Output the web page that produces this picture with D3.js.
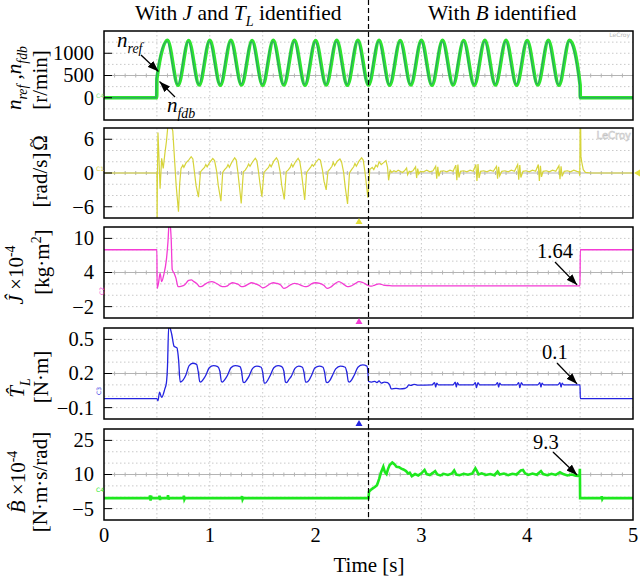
<!DOCTYPE html>
<html><head><meta charset="utf-8">
<script src="https://cdn.jsdelivr.net/npm/d3@7"></script>
<style>
html,body{margin:0;padding:0;background:#fff;}
svg text{font-family:"Liberation Serif","Times New Roman",serif;}
svg text.tag{font-family:"DejaVu Sans",sans-serif;}
</style></head><body>
<svg id="chart" width="641" height="582"></svg>
<script>
// ---------- data ----------
const timeTicks = [0, 1, 2, 3, 4, 5];
const timeTickText = ["0", "1", "2", "3", "4", "5"];

const speedTicks = [0, 500, 1000];
const speedTickText = ["0", "500", "1000"];
const omegaTicks = [-6, 0, 6];
const omegaTickText = ["\u22126", "0", "6"];
const inertiaTicks = [-2, 4, 10];
const inertiaTickText = ["\u22122", "4", "10"];
const torqueTicks = [-0.1, 0.2, 0.5];
const torqueTickText = ["\u22120.1", "0.2", "0.5"];
const frictionTicks = [-5, 10, 25];
const frictionTickText = ["\u22125", "10", "25"];

// speed extremes (r/min)
const speedTime = [0, 0.498, 0.5,
  0.6, 0.7, 0.8, 0.9, 1.0, 1.1, 1.2, 1.3, 1.4, 1.5, 1.6, 1.7, 1.8, 1.9, 2.0, 2.1, 2.2, 2.3, 2.4, 2.5,
  2.6, 2.7, 2.8, 2.9, 3.0, 3.1, 3.2, 3.3, 3.4, 3.5, 3.6, 3.7, 3.8, 3.9, 4.0, 4.1, 4.2, 4.3, 4.4, 4.5,
  4.502, 5];
const nFdb = [0, 0, 430,
  1290, 280, 1285, 285, 1290, 280, 1290, 285, 1285, 280, 1290, 285, 1290, 280, 1285, 285, 1290, 280, 1290, 285,
  1290, 280, 1285, 285, 1290, 280, 1290, 285, 1285, 280, 1290, 285, 1290, 280, 1285, 285, 1290, 280, 1290, 285,
  0, 0];
const nRef = [0, 0, 440,
  1265, 300, 1260, 305, 1265, 300, 1265, 305, 1260, 300, 1265, 305, 1265, 300, 1260, 305, 1265, 300, 1265, 305,
  1265, 300, 1260, 305, 1265, 300, 1265, 305, 1260, 300, 1265, 305, 1265, 300, 1260, 305, 1265, 300, 1265, 305,
  0, 0];

// speed estimation error (rad/s)
const omegaErr = [
  [0,0],[0.5,0],[0.502,-8.6],[0.505,-0.5],[0.51,7.2],[0.517,4],[0.53,-2.8],[0.545,2.6],[0.56,0.8],[0.575,3.4],
  [0.59,5.6],[0.605,8.6],[0.63,8.6],[0.65,7.5],[0.682,-2.2],[0.704,-6.9],[0.715,-2],[0.728,0.8],[0.745,1.4],
  [0.755,1.0],[0.775,1.8],[0.8,2.3],[0.824,2.9],[0.84,2.5],[0.87,-2.2],[0.893,-4.3],[0.912,0.2],
  [0.93,0.6],[0.95,1.0],[0.962,1.5],[0.975,1.1],[1.0,1.9],[1.028,2.6],[1.045,2.2],[1.065,0.3],[1.08,-2.2],[1.105,-5.0],[1.122,0.1],
  [1.14,0.6],[1.16,1.0],[1.172,1.5],[1.185,1.0],[1.21,2.0],[1.235,2.7],[1.25,2.3],[1.265,0.2],[1.28,-2.4],[1.297,-5.4],[1.317,0.2],
  [1.335,0.5],[1.355,1.1],[1.367,1.6],[1.38,1.2],[1.405,2.0],[1.43,2.6],[1.445,2.2],[1.46,0.3],[1.475,-2.0],[1.492,-4.2],[1.512,0.1],
  [1.535,0.6],[1.555,1.0],[1.567,1.5],[1.58,1.1],[1.605,2.1],[1.63,2.7],[1.645,2.2],[1.665,0.2],[1.68,-2.2],[1.704,-4.7],[1.722,0.2],
  [1.74,0.5],[1.76,1.0],[1.772,1.6],[1.785,1.1],[1.81,2.0],[1.835,2.6],[1.85,2.1],[1.865,0.3],[1.88,-2.1],[1.897,-4.8],[1.915,0.1],
  [1.935,0.6],[1.955,1.1],[1.967,1.5],[1.98,1.2],[2.005,2.0],[2.03,2.5],[2.045,2.3],[2.065,0.5],[2.08,-1.5],[2.1,-3.0],[2.117,0.3],
  [2.135,0.7],[2.155,1.2],[2.167,1.9],[2.18,1.3],[2.205,2.1],[2.23,2.5],[2.245,2.0],[2.265,0.1],[2.28,-2.5],[2.302,-5.5],[2.32,0.0],
  [2.34,0.6],[2.36,1.1],[2.372,1.7],[2.385,1.2],[2.41,2.1],[2.435,2.7],[2.45,2.3],[2.465,0.4],[2.48,-2.0],[2.494,-4.4],[2.512,0.6],
  [2.535,1.0],[2.55,0.6],[2.57,1.4],[2.585,1.1],[2.6,2.0],[2.62,1.5],[2.64,1.8],[2.665,2.2],[2.68,1.0],[2.69,-1.3],[2.705,0.5],
  [2.72,0.1],[2.74,0.4],[2.76,0.2],[2.78,0.5],[2.8,0.3],[2.82,0.1],[2.84,0.4],[2.86,0.9],[2.87,-0.3],[2.885,0.3],[2.9,0.2],
  [2.92,0.4],[2.945,1.1],[2.955,-0.9],[2.965,0.8],[2.975,-0.2],[2.99,0.3],[3.02,0.2],[3.05,0.5],[3.08,0.2],[3.11,0.4],
  [3.135,1.2],[3.145,-1.0],[3.155,1.1],[3.165,-0.6],[3.18,0.3],[3.21,0.4],[3.24,0.2],[3.27,0.5],[3.3,0.3],
  [3.325,1.4],[3.335,-1.3],[3.345,1.5],[3.355,-0.8],[3.37,0.3],[3.4,0.4],[3.43,0.2],[3.46,0.5],[3.49,0.3],
  [3.515,1.5],[3.525,-1.4],[3.535,1.6],[3.545,-0.9],[3.56,0.3],[3.59,0.4],[3.62,0.2],[3.65,0.5],[3.68,0.3],
  [3.71,1.2],[3.72,-1.0],[3.73,1.1],[3.74,-0.5],[3.76,0.3],[3.79,0.4],[3.82,0.2],[3.85,0.5],[3.88,0.3],
  [3.91,1.5],[3.92,-1.2],[3.93,1.4],[3.94,-0.8],[3.96,0.3],[3.99,0.4],[4.02,0.2],[4.05,0.5],[4.08,0.3],
  [4.105,1.5],[4.115,-1.4],[4.125,1.3],[4.135,-0.7],[4.15,0.3],[4.18,0.4],[4.21,0.2],[4.24,0.5],[4.27,0.3],
  [4.3,1.3],[4.31,-1.1],[4.32,1.2],[4.33,-0.6],[4.35,0.3],[4.38,0.4],[4.41,0.2],[4.44,0.5],[4.47,0.3],
  [4.49,0.2],[4.497,-0.5],[4.5,8.6],[4.505,8.6],[4.508,3],[4.515,2],[4.53,0.6],[4.55,0.1],[4.6,0],[5,0]
];

// estimated inertia (x1e-4 kg·m²)
const inertiaEst = [
  [0,8],[0.5,8],[0.502,1.2],[0.515,2.1],[0.53,3.9],[0.545,2.4],[0.565,3.6],[0.59,6.3],[0.605,9.5],[0.615,12.5],
  [0.625,12.3],[0.635,9.9],[0.645,4.5],[0.665,3.8],[0.68,3.0],[0.7,1.5],[0.735,1.6],[0.76,1.8],[0.8,2.6],[0.825,2.7],
  [0.85,2.4],[0.88,2.0],[0.905,1.5],[0.93,1.6],[0.96,2.0],[0.99,2.3],[1.02,2.4],[1.05,2.2],[1.08,1.9],[1.105,1.6],
  [1.13,1.5],[1.16,1.6],[1.19,2.0],[1.215,2.2],[1.24,2.1],[1.27,1.9],[1.3,1.5],[1.33,1.6],[1.36,1.9],[1.395,2.2],
  [1.43,2.0],[1.47,1.7],[1.5,1.3],[1.53,1.5],[1.56,1.9],[1.6,2.2],[1.63,2.1],[1.67,1.8],[1.7,1.2],[1.73,1.4],
  [1.76,1.8],[1.8,2.1],[1.83,2.0],[1.87,1.7],[1.9,1.5],[1.93,1.6],[1.96,2.0],[2.0,2.2],[2.04,2.1],[2.08,1.7],
  [2.11,1.2],[2.14,1.4],[2.18,2.0],[2.22,2.4],[2.26,2.0],[2.3,1.5],[2.33,1.6],[2.37,2.0],[2.41,2.4],[2.45,2.2],
  [2.5,1.7],[2.53,1.6],[2.56,1.8],[2.6,2.0],[2.64,1.8],[2.69,1.7],[2.74,1.64],[4.499,1.64],[4.502,8],[5,8]
];

// estimated load torque (N·m)
const torqueEst = [
  [0,-0.02],[0.5,-0.02],[0.51,-0.04],[0.525,0.035],[0.545,-0.01],[0.575,0.065],[0.59,0.12],[0.6,0.26],[0.612,0.62],
  [0.625,0.6],[0.64,0.545],[0.662,0.44],[0.69,0.425],[0.705,0.32],[0.72,0.125],
  [0.745,0.14],[0.775,0.19],[0.805,0.27],[0.84,0.29],[0.875,0.28],[0.89,0.22],[0.905,0.13],
  [0.915,0.125],[0.94,0.15],[0.96,0.18],[0.995,0.25],[1.035,0.27],[1.075,0.26],[1.095,0.22],[1.11,0.13],
  [1.12,0.125],[1.145,0.15],[1.165,0.18],[1.2,0.25],[1.24,0.27],[1.285,0.26],[1.3,0.22],[1.315,0.125],
  [1.325,0.12],[1.35,0.145],[1.37,0.175],[1.405,0.245],[1.445,0.265],[1.485,0.255],[1.5,0.21],[1.515,0.115],
  [1.525,0.115],[1.55,0.145],[1.57,0.18],[1.605,0.25],[1.645,0.27],[1.68,0.26],[1.7,0.22],[1.715,0.125],
  [1.725,0.12],[1.75,0.15],[1.77,0.175],[1.805,0.245],[1.84,0.265],[1.875,0.255],[1.89,0.21],[1.905,0.125],
  [1.915,0.125],[1.94,0.145],[1.96,0.18],[1.995,0.25],[2.035,0.265],[2.07,0.255],[2.085,0.21],[2.1,0.125],
  [2.11,0.12],[2.135,0.14],[2.155,0.175],[2.19,0.24],[2.235,0.265],[2.28,0.255],[2.295,0.21],[2.31,0.13],
  [2.32,0.125],[2.345,0.15],[2.365,0.185],[2.4,0.255],[2.445,0.275],[2.485,0.265],[2.495,0.2],[2.5,0.13],
  [2.53,0.125],[2.56,0.13],[2.58,0.12],[2.6,0.135],[2.62,0.115],[2.65,0.125],[2.68,0.12],[2.7,0.1],
  [2.715,0.065],[2.76,0.07],[2.8,0.065],[2.84,0.068],[2.865,0.08],[2.88,0.1],[2.9,0.095],[2.93,0.105],
  [2.96,0.098],[3.1,0.1],[3.125,0.12],[3.135,0.08],[3.145,0.115],[3.16,0.1],[3.3,0.1],[3.32,0.125],
  [3.33,0.08],[3.34,0.12],[3.355,0.1],[3.49,0.1],[3.51,0.12],[3.52,0.075],[3.535,0.12],[3.55,0.1],
  [3.7,0.1],[3.72,0.12],[3.73,0.08],[3.74,0.115],[3.755,0.1],[3.9,0.1],[3.92,0.12],[3.93,0.075],
  [3.945,0.12],[3.96,0.1],[4.1,0.1],[4.12,0.12],[4.13,0.08],[4.14,0.115],[4.155,0.1],[4.29,0.1],
  [4.31,0.12],[4.32,0.08],[4.33,0.115],[4.345,0.1],[4.499,0.1],[4.502,-0.02],[5,-0.02]
];

// estimated friction coefficient (x1e-4 N·m·s/rad)
const frictionEst = [
  [0,-0.4],[0.43,-0.4],[0.435,0.8],[0.44,-1.5],[0.445,0.6],[0.45,-0.4],[0.52,-0.4],[0.525,0.7],[0.53,-1.2],
  [0.535,-0.4],[0.6,-0.4],[0.605,0.9],[0.61,-1],[0.615,-0.4],[0.75,-0.4],[0.755,0.7],[0.76,-0.9],[0.765,-0.4],
  [1.3,-0.4],[1.305,0.5],[1.31,-0.9],[1.315,-0.4],[2.5,-0.4],
  [2.505,2.5],[2.52,3.2],[2.54,3.9],[2.56,4.5],[2.58,5.3],[2.6,8],[2.62,11.1],[2.64,13.4],[2.655,11],[2.67,10.2],
  [2.685,12.5],[2.7,14.2],[2.725,15.3],[2.745,14.5],[2.765,13.4],[2.79,13.2],[2.81,12.6],[2.83,12.2],[2.855,11.5],
  [2.875,10.4],[2.89,10.8],[2.91,9.3],[2.94,10.2],[2.97,9.6],[3.0,10.5],[3.03,12],[3.05,10.2],[3.08,9.8],[3.11,10.8],
  [3.13,11.5],[3.15,10],[3.18,9.6],[3.21,10.3],[3.25,9.8],[3.29,10.5],[3.31,11.8],[3.33,10],[3.36,9.7],[3.4,10.3],
  [3.44,9.9],[3.48,10.4],[3.51,12.7],[3.525,11.5],[3.54,10],[3.57,10.5],[3.61,9.8],[3.65,10.2],[3.69,9.7],[3.72,11.3],
  [3.74,10],[3.78,10.4],[3.82,9.7],[3.86,10.3],[3.9,10.0],[3.94,11.8],[3.96,12],[3.98,10.5],[4.01,9.8],[4.05,10.4],
  [4.09,9.9],[4.13,11.5],[4.15,10.2],[4.19,9.7],[4.23,10.3],[4.27,9.8],[4.31,11],[4.34,10.2],[4.38,9.6],[4.42,10],
  [4.46,9.5],[4.495,9.3],[4.498,12.5],[4.5,-0.4],[4.7,-0.4],[4.705,0.4],[4.71,-0.8],[4.715,-0.4],[5,-0.4]
];

// final identified values pointed out on the traces
const inertiaFinal = 1.64, torqueFinal = 0.1, frictionFinal = 9.3;

// ---------- drawing ----------
const svg = d3.select("#chart");
const X0 = 104, X1 = 633;
const x = d3.scaleLinear().domain([0, 5]).range([X0, X1]);
const FS = 21;      // titles, axis names, annotations
const FT = 20.5;    // tick labels

const defs = svg.append("defs");
defs.append("marker").attr("id", "ah").attr("viewBox", "0 0 11 8")
  .attr("refX", 11).attr("refY", 4).attr("markerWidth", 11).attr("markerHeight", 8)
  .attr("markerUnits", "userSpaceOnUse").attr("orient", "auto")
  .append("path").attr("d", "M0,0L11,4L0,8z").attr("fill", "#000");

const panels = [
  {top: 31, bottom: 120, domain: [-500, 1500], ticks: speedTicks, text: speedTickText},
  {top: 128, bottom: 218, domain: [-8, 8], ticks: omegaTicks, text: omegaTickText},
  {top: 227, bottom: 318, domain: [-4, 12], ticks: inertiaTicks, text: inertiaTickText},
  {top: 328, bottom: 419, domain: [-0.2, 0.6], ticks: torqueTicks, text: torqueTickText},
  {top: 429, bottom: 520, domain: [-10, 30], ticks: frictionTicks, text: frictionTickText}
];

panels.forEach((p, i) => {
  p.y = d3.scaleLinear().domain(p.domain).range([p.bottom, p.top]);
  defs.append("clipPath").attr("id", "clip" + i).append("rect")
    .attr("x", X0).attr("y", p.top).attr("width", X1 - X0).attr("height", p.bottom - p.top);
  const g = svg.append("g");
  p.g = g;
  // oscilloscope grid
  const step = (p.domain[1] - p.domain[0]) / 8;
  for (let k = 1; k < 8; k++) {
    const yy = p.y(p.domain[0] + k * step);
    g.append("line").attr("x1", X0).attr("x2", X1).attr("y1", yy).attr("y2", yy)
      .attr("stroke", k === 4 ? "#b4b4b4" : "#c9c9c9")
      .attr("stroke-width", 1)
      .attr("stroke-dasharray", k === 4 ? null : "1.5,2.5");
  }
  d3.range(1, 10).forEach(k => {
    const xx = x(k * 0.5);
    g.append("line").attr("x1", xx).attr("x2", xx).attr("y1", p.top).attr("y2", p.bottom)
      .attr("stroke", "#c9c9c9").attr("stroke-dasharray", "1.5,2.5");
  });
  // minor ticks on the centre line
  const yc = p.y(p.domain[0] + 4 * step);
  d3.range(1, 50).forEach(k => {
    const xx = x(k * 0.1);
    g.append("line").attr("x1", xx).attr("x2", xx).attr("y1", yc - 2).attr("y2", yc + 2)
      .attr("stroke", "#b4b4b4");
  });
});

const traceLayer = (i) => panels[i].g.append("g").attr("clip-path", `url(#clip${i})`);
const mkLine = (i, curve) => d3.line().x(d => x(d[0])).y(d => panels[i].y(d[1])).curve(curve || d3.curveLinear);

// panel 1: speeds
{
  const L = traceLayer(0);
  const fdb = speedTime.map((t, k) => [t, nFdb[k]]);
  const ref = speedTime.map((t, k) => [t - 0.006, nRef[k]]);
  L.append("path").datum(fdb).attr("d", mkLine(0, d3.curveMonotoneX))
    .attr("fill", "none").attr("stroke", "#2ee42e").attr("stroke-width", 3.6);
  L.append("path").datum(ref).attr("d", mkLine(0, d3.curveMonotoneX))
    .attr("fill", "none").attr("stroke", "#2b3bc0").attr("stroke-width", 0.9).attr("opacity", 0.5);
}
// panel 2
traceLayer(1).append("path").datum(omegaErr).attr("d", mkLine(1))
  .attr("fill", "none").attr("stroke", "#d6d43a").attr("stroke-width", 1.2);
// panel 3
traceLayer(2).append("path").datum(inertiaEst).attr("d", mkLine(2, d3.curveMonotoneX))
  .attr("fill", "none").attr("stroke", "#f43bd4").attr("stroke-width", 1.3);
// panel 4
traceLayer(3).append("path").datum(torqueEst).attr("d", mkLine(3, d3.curveMonotoneX))
  .attr("fill", "none").attr("stroke", "#2424e0").attr("stroke-width", 1.3);
// panel 5
traceLayer(4).append("path").datum(frictionEst).attr("d", mkLine(4))
  .attr("fill", "none").attr("stroke", "#1ee81e").attr("stroke-width", 2.6);

// frames, y ticks and tick labels
panels.forEach((p, i) => {
  p.g.append("rect").attr("x", X0).attr("y", p.top).attr("width", X1 - X0).attr("height", p.bottom - p.top)
    .attr("fill", "none").attr("stroke", "#000").attr("stroke-width", 1.5);
  p.ticks.forEach((v, k) => {
    const yy = p.y(v);
    p.g.append("line").attr("x1", X0).attr("x2", X0 + 8).attr("y1", yy).attr("y2", yy)
      .attr("stroke", "#000").attr("stroke-width", 1);
    p.g.append("text").attr("x", 94).attr("y", yy).attr("dy", "0.34em")
      .attr("text-anchor", "end").attr("font-size", FT).text(p.text[k]);
  });
});

// time axis labels
timeTicks.forEach((t, k) => {
  svg.append("text").attr("x", x(t)).attr("y", 542).attr("text-anchor", "middle")
    .attr("font-size", FT).text(timeTickText[k]);
});
svg.append("text").attr("x", 369).attr("y", 572).attr("text-anchor", "middle")
  .attr("font-size", FS).text("Time [s]");

// rich text helper (italic / sub / superscript)
function rich(sel, parts, size) {
  let shift = 0;
  parts.forEach(p => {
    const target = p.sub ? 0.3 * size : p.sup ? -0.38 * size : 0;
    const ts = sel.append("tspan").attr("dy", target - shift).text(p.t);
    if (p.i) ts.attr("font-style", "italic");
    if (p.sub || p.sup) ts.attr("font-size", size * 0.66);
    shift = target;
  });
  return sel;
}
function vlabel(xb, yc, parts, size) {
  const fs = size || FS;
  const t = svg.append("text").attr("transform", `translate(${xb},${yc}) rotate(-90)`)
    .attr("text-anchor", "middle").attr("font-size", fs);
  rich(t, parts, fs);
}

vlabel(21, 78, [{t: "n", i: 1}, {t: "ref", i: 1, sub: 1}, {t: " ,"}, {t: "n", i: 1}, {t: "fdb", i: 1, sub: 1}]);
vlabel(47, 80, [{t: "[r/min]"}]);
vlabel(47, 143, [{t: "\u03A9"}]);
vlabel(37, 143, [{t: "~"}], 16);
vlabel(47, 180, [{t: "[rad/s]"}]);
vlabel(23, 275, [{t: "\u0134", i: 1}, {t: " \u00D710"}, {t: "-4", sup: 1}]);
vlabel(49, 262, [{t: "[kg\u00B7m"}, {t: "2", sup: 1}, {t: "]"}]);
vlabel(24, 388, [{t: "T\u0302", i: 1}, {t: "L", i: 1, sub: 1}]);
vlabel(48, 377, [{t: "[N\u00B7m]"}]);
vlabel(25, 482, [{t: "B\u0302", i: 1}, {t: " \u00D710"}, {t: "-4", sup: 1}]);
vlabel(47, 482, [{t: "[N\u00B7m\u00B7s/rad]"}]);

// headings
rich(svg.append("text").attr("x", 135).attr("y", 20).attr("font-size", 21.5),
  [{t: "With "}, {t: "J", i: 1}, {t: " and "}, {t: "T", i: 1}, {t: "L", i: 1, sub: 1}, {t: " identified"}], 21.5);
rich(svg.append("text").attr("x", 428).attr("y", 20).attr("font-size", 21.5),
  [{t: "With "}, {t: "B", i: 1}, {t: " identified"}], 21.5);

// boundary between the two identification stages
svg.append("line").attr("x1", x(2.5)).attr("x2", x(2.5)).attr("y1", 0).attr("y2", 520)
  .attr("stroke", "#000").attr("stroke-width", 1.2).attr("stroke-dasharray", "5,3");

// annotations
function arrow(x1, y1, x2, y2) {
  svg.append("line").attr("x1", x1).attr("y1", y1).attr("x2", x2).attr("y2", y2)
    .attr("stroke", "#000").attr("stroke-width", 1.3).attr("marker-end", "url(#ah)");
}
rich(svg.append("text").attr("x", 117).attr("y", 47).attr("font-size", FS),
  [{t: "n", i: 1}, {t: "ref", i: 1, sub: 1}], FS);
arrow(141, 55, 158.5, 71.5);
rich(svg.append("text").attr("x", 167).attr("y", 112).attr("font-size", FS),
  [{t: "n", i: 1}, {t: "fdb", i: 1, sub: 1}], FS);
arrow(175, 97, 159.5, 81.5);

const tEnd = 4.5;
svg.append("text").attr("x", 537).attr("y", 258).attr("font-size", FT).text(String(inertiaFinal));
arrow(555, 262, x(tEnd) - 3, panels[2].y(inertiaFinal) - 1);
svg.append("text").attr("x", 542).attr("y", 359).attr("font-size", FT).text(String(torqueFinal));
arrow(557, 363, x(tEnd) - 3, panels[3].y(torqueFinal) - 1);
svg.append("text").attr("x", 533).attr("y", 449).attr("font-size", FT).text(String(frictionFinal));
arrow(553, 452, x(tEnd) - 3, panels[4].y(frictionFinal) - 1);

// scope channel markers
const tri = (cx, cy, col, dir) => {
  const d = dir === "left" ? `M${cx - 3},${cy}L${cx + 3},${cy - 3.5}L${cx + 3},${cy + 3.5}Z`
                           : `M${cx},${cy - 3}L${cx - 3.5},${cy + 3}L${cx + 3.5},${cy + 3}Z`;
  svg.append("path").attr("d", d).attr("fill", col);
};
tri(359, 221, "#e2df3a", "up");
tri(359, 321, "#f43bd4", "up");
tri(359, 423, "#2424e0", "up");
tri(637, panels[1].y(0), "#e2df3a", "left");

const chTag = (xx, yy, s, col, rot) => {
  svg.append("text").attr("class", "tag")
    .attr("transform", `translate(${xx},${yy})${rot ? " rotate(-90)" : ""}`)
    .attr("font-size", 6).attr("fill", col)
    .attr("text-anchor", "middle").text(s);
};
chTag(100, 98, "C4", "#7ee87e", false);
chTag(100, 171, "C1", "#d6d43a", false);
chTag(104, 291, "C2", "#f43bd4", true);
chTag(101, 391, "C3", "#2424e0", true);
chTag(100, 492, "C4", "#1ee81e", false);

svg.append("text").attr("class", "tag").attr("x", 630).attr("y", 37).attr("text-anchor", "end")
  .attr("font-size", 6).attr("fill", "#b8b8b8").text("LeCroy");
svg.append("text").attr("class", "tag").attr("x", 631).attr("y", 139).attr("text-anchor", "end")
  .attr("font-size", 10).attr("fill", "none")
  .attr("stroke", "#c4c4c4").attr("stroke-width", 0.6).text("LeCroy");
</script>
</body></html>
